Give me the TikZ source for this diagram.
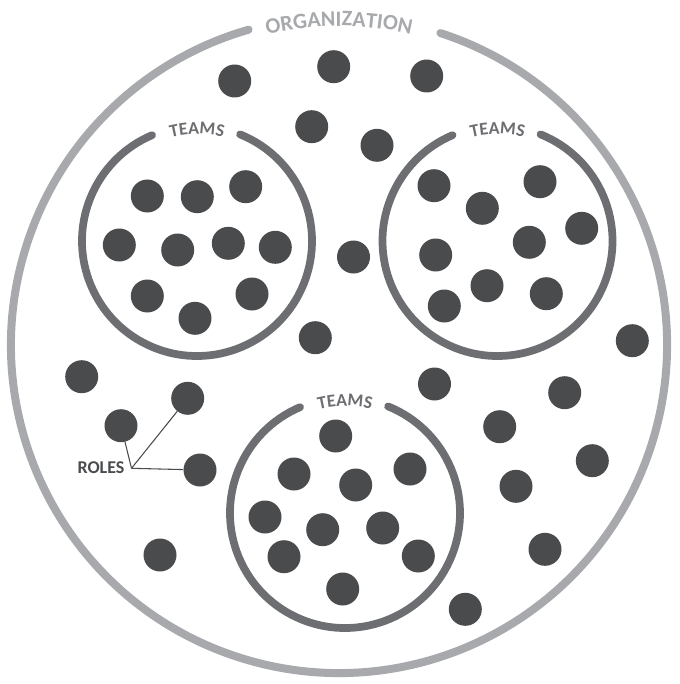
\documentclass[tikz,border=0pt]{standalone}
\usepackage{fontspec}
\newfontfamily\diagfont{Carlito}
\usetikzlibrary{decorations.text}
\definecolor{orggray}{HTML}{A7A9AC}
\definecolor{teamgray}{HTML}{6D6E71}
\definecolor{dotgray}{HTML}{4A4B4D}
\newcommand{\orglabelfont}{\diagfont\bfseries\fontsize{16.5}{16.5}\selectfont\color{orggray}}
\newcommand{\teamlabelfont}{\diagfont\bfseries\fontsize{13.5}{13.5}\selectfont\color{teamgray}}

\begin{document}
\begin{tikzpicture}[x=0.75pt, y=-0.75pt,
        dot/.style={circle, fill=dotgray, inner sep=0pt, minimum size=24.75pt},
        orgring/.style={draw=orggray, line width=6pt, line cap=round},
        teamring/.style={draw=teamgray, line width=5.8pt, line cap=round},
        roleline/.style={draw=dotgray, line width=0.8pt}]
    \useasboundingbox (0,0) rectangle (679,684);

    % organization ring with its label
    \coordinate (org) at (339,345);
    \draw[orgring] (org) ++(-72:328) arc[start angle=-72, end angle=254, radius=328];
    \path[decorate, decoration={text along path, text align=center,
            text={|\orglabelfont|ORGANIZATION}}]
        (org) ++(-115:319) arc[start angle=-115, end angle=-65, radius=319];

    % team rings
    \coordinate (teamA) at (197,241);
    \coordinate (teamB) at (497.5,241);
    \coordinate (teamC) at (345,513);
    \foreach \t in {teamA, teamB, teamC} {
        \draw[teamring] (\t) ++(-68:115) arc[start angle=-68, end angle=247, radius=115];
        \path[decorate, decoration={text along path, text align=center,
                text={|\teamlabelfont|TEAMS}}]
            (\t) ++(-125:107) arc[start angle=-125, end angle=-55, radius=107];
    }

    % people inside the teams
    \foreach \p [count=\i] in {{147.3,196}, {197.3,196.7}, {245.7,186.7}, {119.3,245},
            {177.7,250}, {228.3,243.3}, {275.3,247.3}, {147.3,296}, {195,318.3}, {252,294}}
        \node[dot] (a\i) at (\p) {};
    \foreach \p [count=\i] in {{434,185.7}, {540,181.7}, {482.3,208.3}, {581.7,228.3},
            {529.3,242.3}, {435.7,255}, {487,285.7}, {444.3,306}, {546.3,293.7}}
        \node[dot] (b\i) at (\p) {};
    \foreach \p [count=\i] in {{335.7,436}, {294,474}, {355.7,485}, {410,469}, {265,517},
            {322.7,529.7}, {382.7,528}, {284,556.7}, {418.3,556}, {342.7,589}}
        \node[dot] (c\i) at (\p) {};

    % people outside any team
    \foreach \p [count=\i] in {{234.7,81}, {333.7,66.7}, {426.7,76}, {311.7,126.7},
            {377,145.3}, {353.5,257}, {315.3,337.7}, {632.3,340.7}, {81.7,376.7},
            {434.5,384}, {564.7,392.7}, {499.7,426.7}, {592.3,460.7}, {516,486.3},
            {545,549.3}, {160,555}, {465.3,609.3}}
        \node[dot] (r\i) at (\p) {};

    % roles callout
    \node[dot] (roleA) at (121,425.7) {};
    \node[dot] (roleB) at (187.7,398.3) {};
    \node[dot] (roleC) at (200,470) {};
    \node[font=\diagfont\bfseries\fontsize{13.5}{13.5}\selectfont, text=dotgray,
        inner sep=0pt] (roles) at (101,468) {ROLES};
    \coordinate (rj) at (131.5,468.3);
    \draw[roleline] (rj) -- (roleA);
    \draw[roleline] (rj) -- (roleB);
    \draw[roleline] (rj) -- (roleC);
\end{tikzpicture}
\end{document}
